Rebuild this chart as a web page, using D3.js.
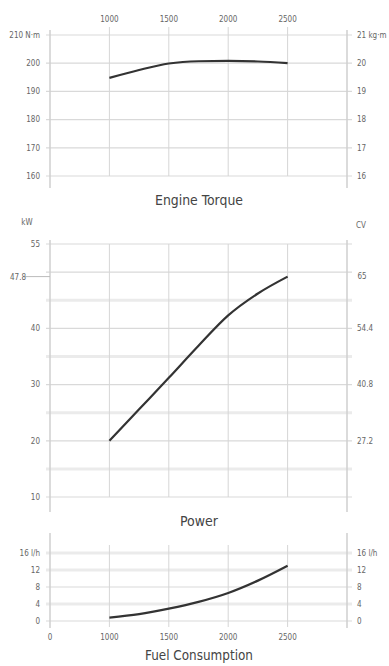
<!DOCTYPE html>
<html>
<head>
<meta charset="utf-8">
<script src="https://cdn.jsdelivr.net/npm/d3@7"></script>
<style>
  body { margin: 0; background: #fff; }
  svg text { font-family: "Liberation Sans Narrow", "DejaVu Sans Condensed", "Liberation Sans", sans-serif; fill: #666; }
  .title { font-size: 14px; fill: #444; }
  .tick-label { font-size: 8px; }
</style>
</head>
<body>
<div id="chart"></div>
<script>
// engine speed (rpm) for all three curves
var rpm = [1000, 1250, 1500, 1750, 2000, 2250, 2500];
var torqueNm = [194.8, 197.6, 199.9, 200.7, 200.8, 200.6, 200.0];
var powerKw = [20, 25.6, 31.2, 36.9, 42.3, 46.2, 49.2];
var fuelLh = [0.8, 1.6, 2.9, 4.5, 6.6, 9.5, 13];

var rpmTicks = [1000, 1500, 2000, 2500];
var rpmBottomTicks = [500, 1000, 1500, 2000, 2500];
var rpmBottomLabels = ["0", "1000", "1500", "2000", "2500"];

var torqueTicks = [160, 170, 180, 190, 200, 210];
var torqueLabels = ["160", "170", "180", "190", "200", "210 N·m"];
var torqueKgmLabels = ["16", "17", "18", "19", "20", "21 kg·m"];

var powerTicks = [10, 20, 30, 40, 55];
var powerMinor = [15, 25, 35, 45];
var powerMajor = [10, 20, 30, 40, 50, 55];
var powerCvTicks = [20, 30, 40];
var powerCvLabels = ["27.2", "40.8", "54.4"];
var ratedKw = "47.8", ratedCv = "65";

var fuelTicks = [0, 4, 8, 12, 16];
var fuelLabels = ["0", "4", "8", "12", "16 l/h"];
var fuelThin = [0, 8];
var fuelThick = [4, 12, 16];

var W = 389, H = 666;
var left = 50, right = 347;

var svg = d3.select("#chart").append("svg")
  .attr("width", W)
  .attr("height", H);

var x = d3.scaleLinear().domain([500, 3000]).range([left, right]);

var yT = d3.scaleLinear().domain([160, 210]).range([176, 35]);
var yP = d3.scaleLinear().domain([10, 55]).range([497, 244]);
var yF = d3.scaleLinear().domain([0, 16]).range([621, 553]);

function hline(y, c, w) {
  svg.append("line")
    .attr("x1", left - 4).attr("x2", right + 5)
    .attr("y1", y).attr("y2", y)
    .attr("stroke", c).attr("stroke-width", w);
}

function frame(y0, y1, a0, a1) {
  rpmTicks.forEach(function(r) {
    svg.append("line")
      .attr("x1", x(r)).attr("x2", x(r))
      .attr("y1", y0).attr("y2", y1)
      .attr("stroke", "#d6d6d6").attr("stroke-width", 1);
  });
  [left, right].forEach(function(px) {
    svg.append("line")
      .attr("x1", px).attr("x2", px)
      .attr("y1", a0).attr("y2", a1)
      .attr("stroke", "#cfcfcf").attr("stroke-width", 1.5);
  });
}

function label(px, py, t, anchor, cls) {
  return svg.append("text")
    .attr("class", cls || "tick-label")
    .attr("x", px).attr("y", py)
    .attr("dy", "0.35em")
    .attr("text-anchor", anchor)
    .text(t);
}

function title(py, t, len) {
  label(199, py, t, "middle", "title")
    .attr("textLength", len)
    .attr("lengthAdjust", "spacingAndGlyphs");
}

var curve = d3.line().curve(d3.curveMonotoneX);

function drawCurve(vals, y) {
  svg.append("path")
    .attr("d", curve(rpm.map(function(r, i) { return [x(r), y(vals[i])]; })))
    .attr("fill", "none")
    .attr("stroke", "#333")
    .attr("stroke-width", 2.2);
}

// ---------------- Engine torque
torqueTicks.forEach(function(v, i) {
  hline(yT(v), "#d9d9d9", 1.2);
  label(40, yT(v), torqueLabels[i], "end");
  label(357, yT(v), torqueKgmLabels[i], "start");
});
frame(yT(210) - 8, yT(160), yT(210) - 5, yT(160) + 12);
rpmTicks.forEach(function(r) {
  label(x(r), 19, String(r), "middle");
});
drawCurve(torqueNm, yT);
title(200, "Engine Torque", 88);

// ---------------- Power
powerMinor.forEach(function(v) { hline(yP(v), "#ebebeb", 3); });
powerMajor.forEach(function(v) { hline(yP(v), "#d9d9d9", 1.2); });
frame(yP(55), yP(10), yP(55) - 4, yP(10) + 15);
powerTicks.forEach(function(v) {
  label(40, yP(v), String(v), "end");
});
powerCvTicks.forEach(function(v, i) {
  label(357, yP(v), powerCvLabels[i], "start");
});
// rated point marker at end of curve
var yr = yP(powerKw[powerKw.length - 1]);
svg.append("line")
  .attr("x1", 25).attr("x2", left)
  .attr("y1", yr).attr("y2", yr)
  .attr("stroke", "#bbb").attr("stroke-width", 1);
label(18, yr + 1, ratedKw, "middle");
label(362, yr, ratedCv, "middle");
label(27, 222, "kW", "middle");
label(361, 225, "CV", "middle");
drawCurve(powerKw, yP);
title(521, "Power", 38);

// ---------------- Fuel consumption
fuelThick.forEach(function(v) { hline(yF(v), "#ebebeb", 3); });
fuelThin.forEach(function(v) { hline(yF(v), "#d9d9d9", 1.2); });
frame(yF(16) - 8, yF(0) + 6, yF(16) - 20, yF(0) + 7);
fuelTicks.forEach(function(v, i) {
  label(40, yF(v), fuelLabels[i], "end");
  label(357, yF(v), fuelLabels[i], "start");
});
rpmBottomTicks.forEach(function(r, i) {
  label(x(r), 637, rpmBottomLabels[i], "middle");
});
drawCurve(fuelLh, yF);
title(655, "Fuel Consumption", 108);
</script>
</body>
</html>
